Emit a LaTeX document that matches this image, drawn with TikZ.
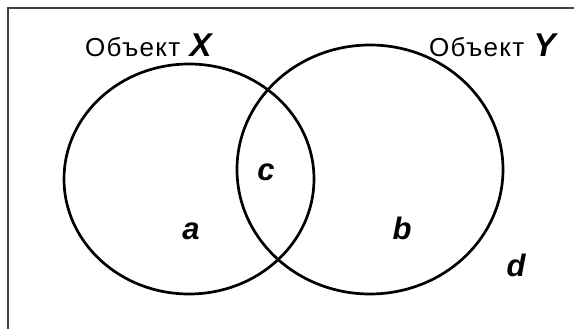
\documentclass[tikz,border=0pt]{standalone}
\usepackage{fontspec}
\setmainfont{Liberation Sans}
\newfontfamily\objfont[LetterSpace=5]{Liberation Sans}
\usetikzlibrary{positioning}

\begin{document}
\begin{tikzpicture}[
  x=1pt, y=-1pt,
  set/.style={line width=2.7pt, draw=black},
  frame/.style={line width=1.4pt, draw=black!75},
  obj/.style={inner sep=0pt, anchor=base west, font=\objfont\fontsize{26}{26}\selectfont},
  oname/.style={inner sep=0pt, font=\fontsize{33}{33}\selectfont\bfseries\itshape},
  part/.style={inner sep=0pt, font=\fontsize{31}{31}\selectfont\bfseries\itshape}
]
\useasboundingbox (0,0) rectangle (574,329);
\draw[frame] (8,329) -- (8,8) -- (574,8);

% the two sets
\draw[set] (189,179) ellipse [x radius=125, y radius=115];
\draw[set] (370,169.5) ellipse [x radius=133, y radius=124.5];

\node[obj] (lx) at (85,57)  {Объект};
\node[oname, base right=9pt of lx] (nx) {X};
\node[obj] (ly) at (429,57) {Объект};
\node[oname, base right=9pt of ly] (ny) {Y};

\node[part] (a) at (191,231) {a};
\node[part] (b) at (402,228) {b};
\node[part] (c) at (266,172) {c};
\node[part] (d) at (516,265) {d};
\end{tikzpicture}
\end{document}
